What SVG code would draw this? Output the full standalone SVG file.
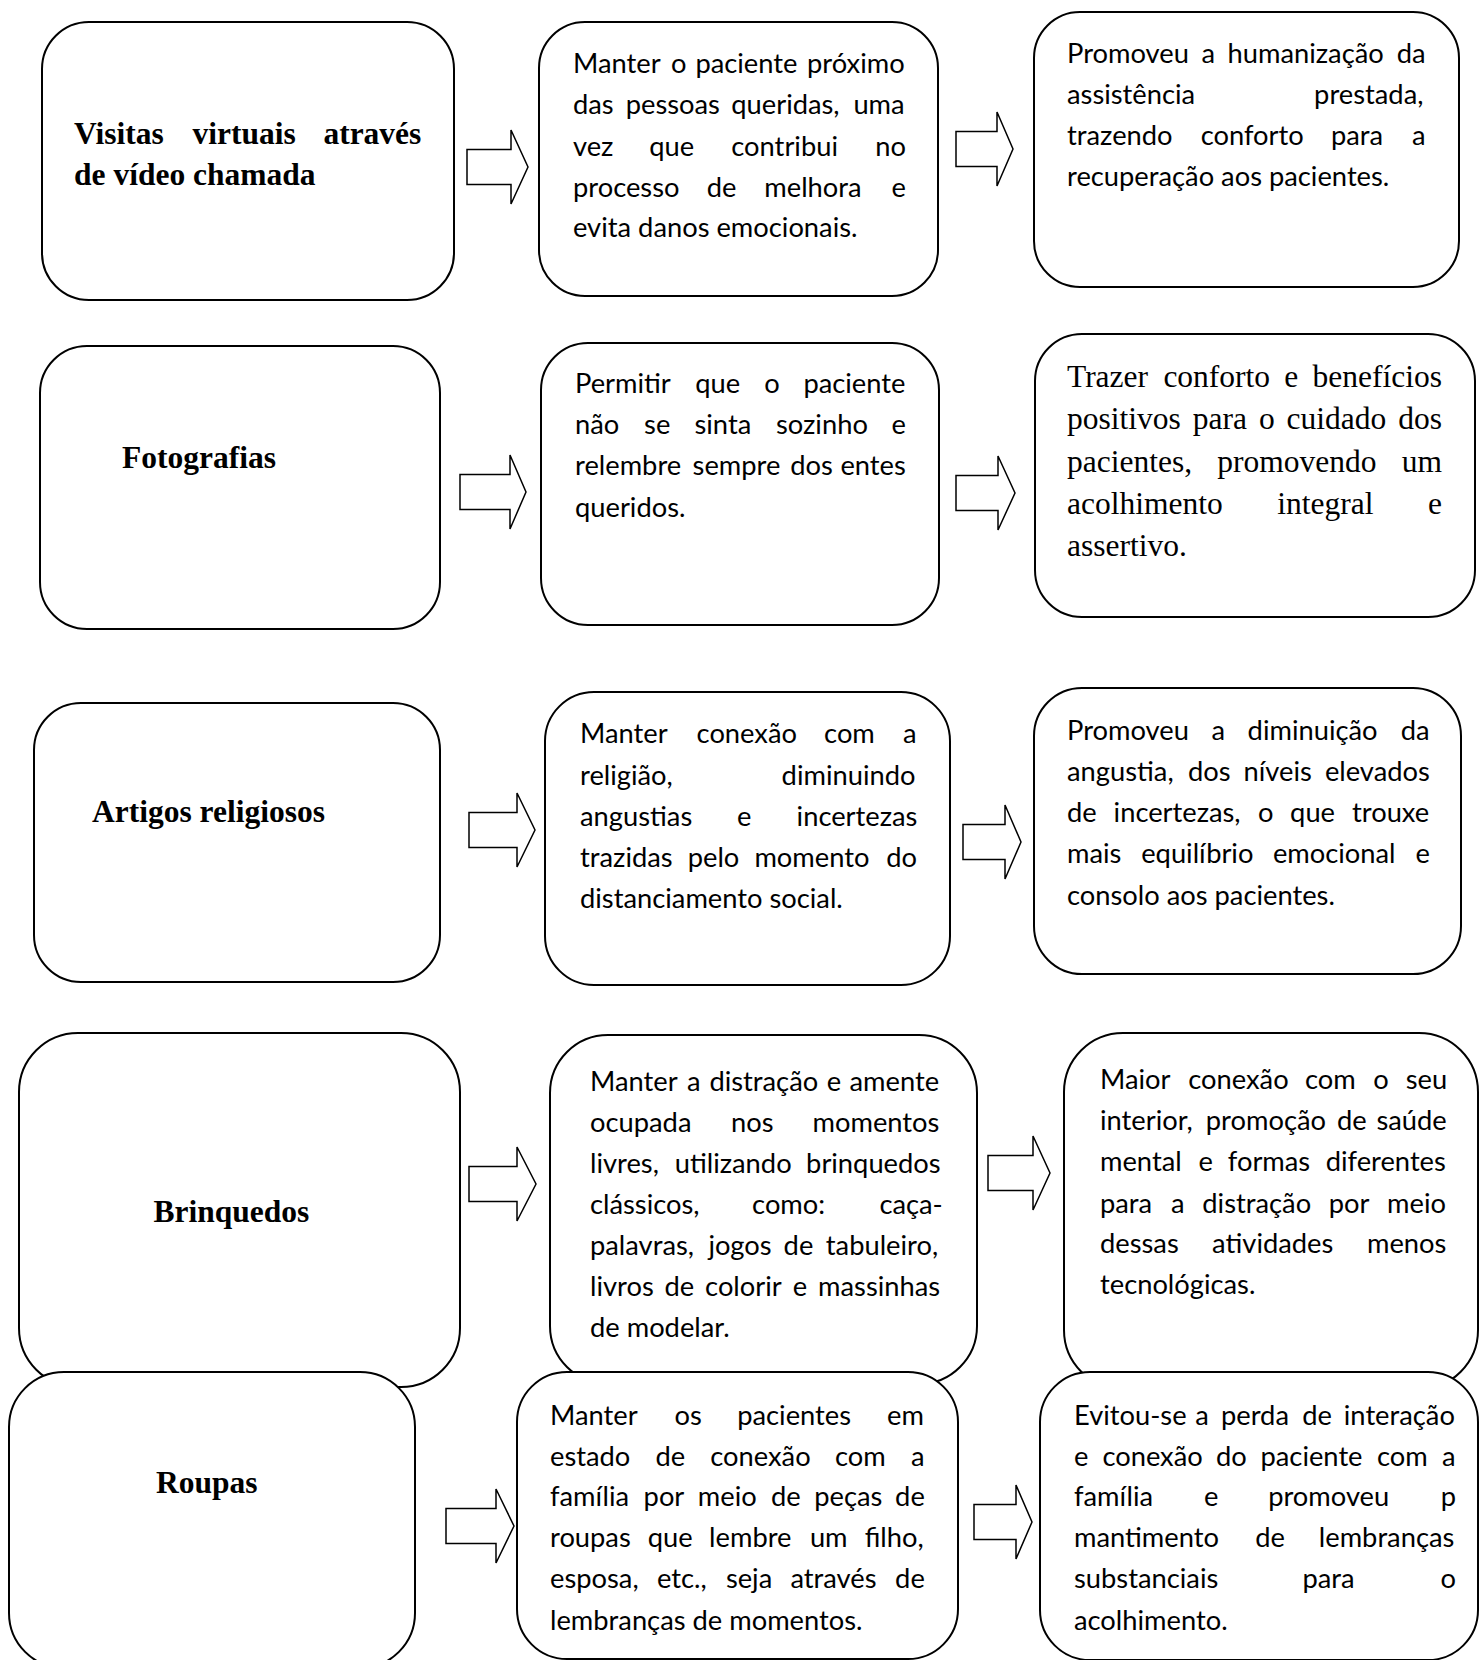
<svg xmlns="http://www.w3.org/2000/svg" width="1480" height="1660" viewBox="0 0 1480 1660">
<style>
.box{fill:#fff;stroke:#000;stroke-width:2}
.arr{fill:#fff;stroke:#000;stroke-width:1.5;stroke-linejoin:miter}
.t{font-family:Lato,"Liberation Sans",sans-serif;font-size:27.3px;fill:#000}
.h{font-family:"Liberation Serif","Times New Roman",serif;font-weight:bold;font-size:31.5px;fill:#000}
.s{font-family:"Liberation Serif","Times New Roman",serif;font-size:31.5px;fill:#000}
</style>
<rect width="1480" height="1660" fill="#fff"/>

<g id="node-a1">
<rect class="box" x="42" y="22" width="412" height="278" rx="47"/>
<text class="h" y="143.5"><tspan x="74">Visitas</tspan><tspan x="192.6">virtuais</tspan><tspan x="323.4">através</tspan></text>
<text class="h" x="74" y="185">de vídeo chamada</text>
</g>
<g id="node-b1">
<rect class="box" x="539" y="22" width="399" height="274" rx="46"/>
<text class="t" y="72.5"><tspan x="573">Manter</tspan><tspan x="670.9">o</tspan><tspan x="695.4">paciente</tspan><tspan x="807">próximo</tspan></text>
<text class="t" y="114"><tspan x="573">das</tspan><tspan x="625.7">pessoas</tspan><tspan x="731.3">queridas,</tspan><tspan x="853.4">uma</tspan></text>
<text class="t" y="155.5"><tspan x="573">vez</tspan><tspan x="649.2">que</tspan><tspan x="731.3">contribui</tspan><tspan x="875.3">no</tspan></text>
<text class="t" y="196.5"><tspan x="573">processo</tspan><tspan x="706.7">de</tspan><tspan x="764.3">melhora</tspan><tspan x="891.5">e</tspan></text>
<text class="t" x="573" y="237">evita danos emocionais.</text>
</g>
<g id="node-c1">
<rect class="box" x="1034" y="12" width="425" height="275" rx="46"/>
<text class="t" y="62.5"><tspan x="1067">Promoveu</tspan><tspan x="1201.5">a</tspan><tspan x="1227.5">humanização</tspan><tspan x="1396.7">da</tspan></text>
<text class="t" y="103.8"><tspan x="1067">assistência</tspan><tspan x="1314.1">prestada,</tspan></text>
<text class="t" y="145"><tspan x="1067">trazendo</tspan><tspan x="1200.7">conforto</tspan><tspan x="1331">para</tspan><tspan x="1412">a</tspan></text>
<text class="t" x="1067" y="186.3">recuperação aos pacientes.</text>
</g>

<g id="node-a2">
<rect class="box" x="40" y="346" width="400" height="283" rx="47"/>
<text class="h" x="122" y="468">Fotografias</text>
</g>
<g id="node-b2">
<rect class="box" x="541" y="343" width="398" height="282" rx="47"/>
<text class="t" y="392.8"><tspan x="575">Permitir</tspan><tspan x="695.3">que</tspan><tspan x="764.2">o</tspan><tspan x="803.4">paciente</tspan></text>
<text class="t" y="434"><tspan x="575">não</tspan><tspan x="644.1">se</tspan><tspan x="694.5">sinta</tspan><tspan x="776">sozinho</tspan><tspan x="891.5">e</tspan></text>
<text class="t" y="475.4"><tspan x="575">relembre</tspan><tspan x="692.6">sempre</tspan><tspan x="790.2">dos</tspan><tspan x="840.4">entes</tspan></text>
<text class="t" x="575" y="516.6">queridos.</text>
</g>
<g id="node-c2">
<rect class="box" x="1035" y="334" width="440" height="283" rx="47"/>
<text class="s" y="387"><tspan x="1067">Trazer</tspan><tspan x="1163.4">conforto</tspan><tspan x="1284.3">e</tspan><tspan x="1312.5">benefícios</tspan></text>
<text class="s" y="429.3"><tspan x="1067">positivos</tspan><tspan x="1192.7">para</tspan><tspan x="1258.9">o</tspan><tspan x="1286.6">cuidado</tspan><tspan x="1398.2">dos</tspan></text>
<text class="s" y="471.6"><tspan x="1067">pacientes,</tspan><tspan x="1217.3">promovendo</tspan><tspan x="1401.7">um</tspan></text>
<text class="s" y="514"><tspan x="1067">acolhimento</tspan><tspan x="1277.3">integral</tspan><tspan x="1428">e</tspan></text>
<text class="s" x="1067" y="556.3">assertivo.</text>
</g>

<g id="node-a3">
<rect class="box" x="34" y="703" width="406" height="279" rx="47"/>
<text class="h" x="92" y="822">Artigos religiosos</text>
</g>
<g id="node-b3">
<rect class="box" x="545" y="692" width="405" height="293" rx="49"/>
<text class="t" y="743.2"><tspan x="580">Manter</tspan><tspan x="696.6">conexão</tspan><tspan x="824.1">com</tspan><tspan x="903">a</tspan></text>
<text class="t" y="784.5"><tspan x="580">religião,</tspan><tspan x="781.6">diminuindo</tspan></text>
<text class="t" y="825.8"><tspan x="580">angustias</tspan><tspan x="736.9">e</tspan><tspan x="796.6">incertezas</tspan></text>
<text class="t" y="866.5"><tspan x="580">trazidas</tspan><tspan x="687.7">pelo</tspan><tspan x="754.4">momento</tspan><tspan x="886.3">do</tspan></text>
<text class="t" x="580" y="907.5">distanciamento social.</text>
</g>
<g id="node-c3">
<rect class="box" x="1034" y="688" width="427" height="286" rx="48"/>
<text class="t" y="739.5"><tspan x="1067">Promoveu</tspan><tspan x="1211.5">a</tspan><tspan x="1247.6">diminuição</tspan><tspan x="1400.7">da</tspan></text>
<text class="t" y="780.8"><tspan x="1067">angustia,</tspan><tspan x="1188">dos</tspan><tspan x="1243.5">níveis</tspan><tspan x="1324.9">elevados</tspan></text>
<text class="t" y="822"><tspan x="1067">de</tspan><tspan x="1113.6">incertezas,</tspan><tspan x="1258">o</tspan><tspan x="1290.1">que</tspan><tspan x="1352">trouxe</tspan></text>
<text class="t" y="863.2"><tspan x="1067">mais</tspan><tspan x="1141.2">equilíbrio</tspan><tspan x="1272.9">emocional</tspan><tspan x="1415.4">e</tspan></text>
<text class="t" x="1067" y="904.5">consolo aos pacientes.</text>
</g>

<g id="node-a4">
<rect class="box" x="19" y="1033" width="441" height="354" rx="59"/>
<text class="h" x="153.5" y="1221.7">Brinquedos</text>
</g>
<g id="node-b4">
<rect class="box" x="550" y="1035" width="427" height="349" rx="58"/>
<text class="t" y="1090.5"><tspan x="590">Manter</tspan><tspan x="687.1">a</tspan><tspan x="709.4">distração</tspan><tspan x="826.8">e</tspan><tspan x="849.5">amente</tspan></text>
<text class="t" y="1131.7"><tspan x="590">ocupada</tspan><tspan x="731.1">nos</tspan><tspan x="812.5">momentos</tspan></text>
<text class="t" y="1172.5"><tspan x="590">livres,</tspan><tspan x="674.7">utilizando</tspan><tspan x="806.1">brinquedos</tspan></text>
<text class="t" y="1213.5"><tspan x="590">clássicos,</tspan><tspan x="752.1">como:</tspan><tspan x="879.4">caça-</tspan></text>
<text class="t" y="1254.6"><tspan x="590">palavras,</tspan><tspan x="708.4">jogos</tspan><tspan x="783.6">de</tspan><tspan x="825.8">tabuleiro,</tspan></text>
<text class="t" y="1295.8"><tspan x="590">livros</tspan><tspan x="664.4">de</tspan><tspan x="705.1">colorir</tspan><tspan x="792.8">e</tspan><tspan x="818.1">massinhas</tspan></text>
<text class="t" x="590" y="1337">de modelar.</text>
</g>
<g id="node-c4">
<rect class="box" x="1064" y="1033" width="414" height="356" rx="59"/>
<text class="t" y="1089"><tspan x="1100">Maior</tspan><tspan x="1188.3">conexão</tspan><tspan x="1305">com</tspan><tspan x="1373.2">o</tspan><tspan x="1405.7">seu</tspan></text>
<text class="t" y="1130.2"><tspan x="1100">interior,</tspan><tspan x="1205.8">promoção</tspan><tspan x="1336.9">de</tspan><tspan x="1376.4">saúde</tspan></text>
<text class="t" y="1171.4"><tspan x="1100">mental</tspan><tspan x="1198.5">e</tspan><tspan x="1227.8">formas</tspan><tspan x="1325.7">diferentes</tspan></text>
<text class="t" y="1212.6"><tspan x="1100">para</tspan><tspan x="1170.9">a</tspan><tspan x="1202.3">distração</tspan><tspan x="1328.8">por</tspan><tspan x="1387.1">meio</tspan></text>
<text class="t" y="1253.2"><tspan x="1100">dessas</tspan><tspan x="1212.1">atividades</tspan><tspan x="1367">menos</tspan></text>
<text class="t" x="1100" y="1294.4">tecnológicas.</text>
</g>

<g id="node-a5">
<rect class="box" x="9" y="1372" width="406" height="296" rx="55"/>
<text class="h" x="156" y="1493.3">Roupas</text>
</g>
<g id="node-b5">
<rect class="box" x="517" y="1372" width="441" height="287" rx="50"/>
<text class="t" y="1424.5"><tspan x="550">Manter</tspan><tspan x="674.6">os</tspan><tspan x="737.2">pacientes</tspan><tspan x="887">em</tspan></text>
<text class="t" y="1465.5"><tspan x="550">estado</tspan><tspan x="655.4">de</tspan><tspan x="710.3">conexão</tspan><tspan x="834.9">com</tspan><tspan x="911">a</tspan></text>
<text class="t" y="1506"><tspan x="550">família</tspan><tspan x="643.6">por</tspan><tspan x="697.8">meio</tspan><tspan x="771">de</tspan><tspan x="814.2">peças</tspan><tspan x="895.1">de</tspan></text>
<text class="t" y="1547"><tspan x="550">roupas</tspan><tspan x="647.8">que</tspan><tspan x="709.1">lembre</tspan><tspan x="809.9">um</tspan><tspan x="864.7">filho,</tspan></text>
<text class="t" y="1588.2"><tspan x="550">esposa,</tspan><tspan x="657">etc.,</tspan><tspan x="725.9">seja</tspan><tspan x="790.4">através</tspan><tspan x="895.1">de</tspan></text>
<text class="t" x="550" y="1629.5">lembranças de momentos.</text>
</g>
<g id="node-c5">
<rect class="box" x="1040" y="1372" width="438" height="288" rx="50"/>
<text class="t" y="1424.5"><tspan x="1074">Evitou-se</tspan><tspan x="1195.3">a</tspan><tspan x="1221">perda</tspan><tspan x="1302.2">de</tspan><tspan x="1343.8">interação</tspan></text>
<text class="t" y="1465.5"><tspan x="1074">e</tspan><tspan x="1102.4">conexão</tspan><tspan x="1215.9">do</tspan><tspan x="1260.5">paciente</tspan><tspan x="1377">com</tspan><tspan x="1442">a</tspan></text>
<text class="t" y="1506"><tspan x="1074">família</tspan><tspan x="1204">e</tspan><tspan x="1268.2">promoveu</tspan><tspan x="1440.7">p</tspan></text>
<text class="t" y="1547"><tspan x="1074">mantimento</tspan><tspan x="1255.2">de</tspan><tspan x="1318.8">lembranças</tspan></text>
<text class="t" y="1588.2"><tspan x="1074">substanciais</tspan><tspan x="1302.4">para</tspan><tspan x="1440.6">o</tspan></text>
<text class="t" x="1074" y="1629.5">acolhimento.</text>
</g>

<g id="connectors">
<path class="arr" d="M467,149.5 H511 V130 L528,167 L511,204 V184.5 H467 Z"/>
<path class="arr" d="M956,131.5 H997 V112 L1013,149 L997,186 V166.5 H956 Z"/>
<path class="arr" d="M460,474.5 H510 V455 L526,492 L510,529 V509.5 H460 Z"/>
<path class="arr" d="M956,475.5 H998 V456 L1015,493 L998,530 V510.5 H956 Z"/>
<path class="arr" d="M469,812.5 H517 V793 L535,830 L517,867 V847.5 H469 Z"/>
<path class="arr" d="M963,824.5 H1005 V805 L1021,842 L1005,879 V859.5 H963 Z"/>
<path class="arr" d="M469,1166.5 H517 V1147 L536,1184 L517,1221 V1201.5 H469 Z"/>
<path class="arr" d="M988,1155.5 H1033 V1136 L1050,1173 L1033,1210 V1190.5 H988 Z"/>
<path class="arr" d="M446,1508.5 H496 V1489 L514,1526 L496,1563 V1543.5 H446 Z"/>
<path class="arr" d="M974,1504.5 H1016 V1485 L1032,1522 L1016,1559 V1539.5 H974 Z"/>
</g>
</svg>
